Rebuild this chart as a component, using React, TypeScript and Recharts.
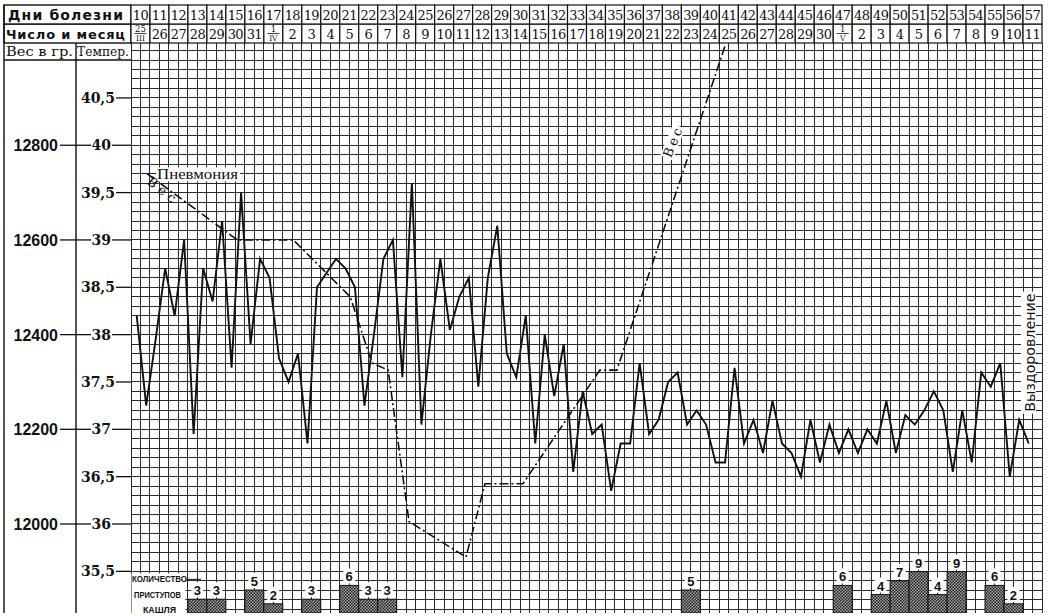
import React from "react";
import {
  Bar,
  CartesianGrid,
  ComposedChart,
  LabelList,
  Line,
  ReferenceDot,
  XAxis,
  YAxis,
} from "recharts";

// Дни болезни и даты
const days = [
  10, 11, 12, 13, 14, 15, 16, 17, 18, 19, 20, 21, 22, 23, 24, 25, 26, 27, 28,
  29, 30, 31, 32, 33, 34, 35, 36, 37, 38, 39, 40, 41, 42, 43, 44, 45, 46, 47,
  48, 49, 50, 51, 52, 53, 54, 55, 56, 57,
];
const dates = [
  "25/III", "26", "27", "28", "29", "30", "31", "1/IV", "2", "3", "4", "5",
  "6", "7", "8", "9", "10", "11", "12", "13", "14", "15", "16", "17", "18",
  "19", "20", "21", "22", "23", "24", "25", "26", "27", "28", "29", "30",
  "1/V", "2", "3", "4", "5", "6", "7", "8", "9", "10", "11",
];

// температура, утро / вечер
const temperature = [
  38.2, 37.25, 37.95, 38.7, 38.2, 39.0, 36.95, 38.7, 38.35, 39.2,
  37.65, 39.5, 37.9, 38.8, 38.6, 37.75, 37.5, 37.8, 36.85, 38.5,
  38.65, 38.8, 38.7, 38.5, 37.25, 38.0, 38.8, 39.0, 37.55, 39.6,
  37.05, 38.0, 38.8, 38.05, 38.4, 38.6, 37.45, 38.6, 39.15, 37.8,
  37.55, 38.2, 36.85, 38.0, 37.35, 37.9, 36.55, 37.4, 36.95, 37.05,
  36.35, 36.85, 36.85, 37.7, 36.95, 37.1, 37.5, 37.6, 37.05, 37.2,
  37.05, 36.65, 36.65, 37.65, 36.85, 37.1, 36.75, 37.3, 36.85, 36.75,
  36.5, 37.1, 36.65, 37.05, 36.75, 37.0, 36.75, 37.0, 36.85, 37.3,
  36.75, 37.15, 37.05, 37.2, 37.4, 37.2, 36.55, 37.2, 36.65, 37.6,
  37.45, 37.7, 36.5, 37.1, 36.85,
];

// вес: положение в полусутках от начала 10-го дня, граммы
const weightPos = [1.7, 11.2, 17.1, 23.1, 25.4, 27.1, 29.3, 35.3, 37.3, 41.3, 49.4, 51.2, 62.6];
const weightGrams = [12740, 12600, 12600, 12480, 12340, 12325, 12005, 11930, 12085, 12085, 12325, 12325, 13010];

// количество приступов кашля
const coughDays = [13, 14, 16, 17, 19, 21, 22, 23, 39, 47, 49, 50, 51, 52, 53, 55, 56];
const coughCounts = [3, 3, 5, 2, 3, 6, 3, 3, 5, 6, 4, 7, 9, 4, 9, 6, 2];

const tempTicks = [35.5, 36, 36.5, 37, 37.5, 38, 38.5, 39, 39.5, 40, 40.5];
const weightTicks = [12000, 12200, 12400, 12600, 12800];

const INK = "#111";
const GRID = "#2a2a2a";
const SERIF = '"DejaVu Serif", serif';
const SANS = '"DejaVu Sans", sans-serif';
const BOLD_SANS = '"Liberation Sans", Arial, sans-serif';
const ROW_H = 19;
const HALF = 96;
const CELL_W = 911 / 48;

const tempDomain = [35.06, 41.08];
const weightDomain = [11812, 13016];

const tempData = temperature.map((t, i) => ({ u: i + 0.6, t }));
const weightData = weightPos.map((u, i) => ({ u, w: weightGrams[i] }));
const coughData = coughDays.map((d, i) => ({ u: 2 * (d - 10) + 1, n: coughCounts[i] }));
const dayTicks = days.map((_, i) => 2 * i + 1);

const gridX = Array.from({ length: HALF + 1 }, (_, i) => i);
const gridY = Array.from({ length: 60 }, (_, i) => Math.round((35.1 + i * 0.1) * 10) / 10);

function DayTick({ x, y, index }: any) {
  return (
    <g>
      <rect x={x - CELL_W / 2} y={y - ROW_H} width={CELL_W} height={ROW_H} fill="#fff" stroke={INK} strokeWidth={1.2} />
      <text x={x} y={y - 4} textAnchor="middle" fontFamily={SERIF} fontSize={13} letterSpacing={-0.6} fill={INK}>
        {days[index]}
      </text>
    </g>
  );
}

function DateTick({ x, y, index }: any) {
  const s = dates[index] ?? "";
  const frac = s.includes("/");
  const [num, den] = s.split("/");
  return (
    <g>
      <rect x={x - CELL_W / 2} y={y - ROW_H} width={CELL_W} height={ROW_H} fill="#fff" stroke={INK} strokeWidth={1.2} />
      {frac ? (
        <g fill={INK} fontFamily={SERIF} textAnchor="middle">
          <text x={x} y={y - 11} fontSize={8.5}>{num}</text>
          <line x1={x - 6} x2={x + 6} y1={y - 9.5} y2={y - 9.5} stroke={INK} strokeWidth={0.8} />
          <text x={x} y={y - 2} fontSize={7.5}>{den}</text>
        </g>
      ) : (
        <text x={x} y={y - 4} textAnchor="middle" fontFamily={SERIF} fontSize={13} letterSpacing={-0.6} fill={INK}>
          {s}
        </text>
      )}
    </g>
  );
}

function TempTick({ x, y, payload }: any) {
  const v = payload.value as number;
  const whole = Number.isInteger(v);
  return (
    <g>
      <text x={x - (whole ? 20 : 16)} y={y + 5} textAnchor="end" fontFamily={SERIF} fontWeight="bold" fontSize={14} fill={INK}>
        {String(v).replace(".", ",")}
      </text>
      <line x1={x - (whole ? 19 : 15)} x2={x} y1={y} y2={y} stroke={INK} strokeWidth={1.3} />
    </g>
  );
}

// подпись веса слева от шкалы температуры
function WeightLabel({ cx, cy, grams }: any) {
  return (
    <g>
      <text x={cx - 73} y={cy + 6} textAnchor="end" fontFamily={BOLD_SANS} fontWeight="bold" fontSize={16} fill={INK}>
        {grams}
      </text>
      <line x1={cx - 71} x2={cx - 40} y1={cy} y2={cy} stroke={INK} strokeWidth={1.3} />
    </g>
  );
}

function DaysHeader({ viewBox }: any) {
  const { x, y, height } = viewBox;
  return (
    <g>
      <rect x={x - 127} y={y} width={127} height={height} fill="#fff" stroke={INK} strokeWidth={1.4} />
      <text x={x - 123} y={y + 15} fontFamily={SANS} fontWeight="bold" fontSize={14} textLength={115} lengthAdjust="spacing" fill={INK}>
        Дни болезни
      </text>
    </g>
  );
}

function DatesHeader({ viewBox }: any) {
  const { x, y, height } = viewBox;
  return (
    <g>
      <rect x={x - 127} y={y} width={127} height={height} fill="#fff" stroke={INK} strokeWidth={1.4} />
      <text x={x - 125} y={y + 15} fontFamily={SANS} fontWeight="bold" fontSize={13} textLength={119} lengthAdjust="spacing" fill={INK}>
        Число и месяц
      </text>
    </g>
  );
}

function LeftHeader({ viewBox }: any) {
  const { x, y, width, height } = viewBox;
  return (
    <g>
      <line x1={x} x2={x} y1={y - 2 * ROW_H} y2={y + height} stroke={INK} strokeWidth={1.4} />
      <line x1={x + 72} x2={x + 72} y1={y} y2={y + height} stroke={INK} strokeWidth={1.4} />
      <line x1={x} x2={x + width} y1={y + 17} y2={y + 17} stroke={INK} strokeWidth={1.4} />
      <text x={x + 2} y={y + 13} fontFamily={SERIF} fontSize={12.5} textLength={67} lengthAdjust="spacingAndGlyphs" fill={INK}>
        Вес в гр.
      </text>
      <text x={x + 73} y={y + 13} fontFamily={SERIF} fontSize={12.5} textLength={52} lengthAdjust="spacingAndGlyphs" fill={INK}>
        Темпер.
      </text>
    </g>
  );
}

// столбик на всю ширину суток
function CoughBar({ x, y, width, height }: any) {
  if (!height) return null;
  const cx = x + (width || 0) / 2;
  return (
    <g>
      <defs>
        <pattern id="hatch" width="3" height="3" patternUnits="userSpaceOnUse">
          <rect width="3" height="3" fill="#a8a8a8" />
          <rect width="1.5" height="1.5" fill="#1c1c1c" />
          <rect x="1.5" y="1.5" width="1.5" height="1.5" fill="#1c1c1c" />
        </pattern>
      </defs>
      <rect x={cx - CELL_W / 2} y={y} width={CELL_W} height={height} fill="url(#hatch)" stroke={INK} strokeWidth={1} />
    </g>
  );
}

function CoughLabel({ x, y, width, value }: any) {
  const cx = x + (width || 0) / 2;
  return (
    <g>
      <rect x={cx - 6} y={y - 17} width={12} height={15} fill="#fff" />
      <text x={cx} y={y - 4} textAnchor="middle" fontFamily={BOLD_SANS} fontWeight="bold" fontSize={13} fill={INK}>
        {value}
      </text>
    </g>
  );
}

function CoughCaption({ cx, cy }: any) {
  const f = { fontFamily: BOLD_SANS, fontWeight: "bold", fontSize: 8.5, fill: INK } as const;
  return (
    <g>
      <rect x={cx + 0.5} y={cy + 2} width={54} height={42} fill="#fff" />
      <text x={cx + 1} y={cy + 11} textLength={55} lengthAdjust="spacingAndGlyphs" {...f}>КОЛИЧЕСТВО</text>
      <line x1={cx + 56} x2={cx + 70} y1={cy + 8} y2={cy + 8} stroke={INK} strokeWidth={1} />
      <text x={cx + 3} y={cy + 27} textLength={47} lengthAdjust="spacingAndGlyphs" {...f}>ПРИСТУПОВ</text>
      <text x={cx + 12} y={cy + 42} textLength={33} lengthAdjust="spacingAndGlyphs" {...f}>КАШЛЯ</text>
    </g>
  );
}

function PneumoniaNote({ cx, cy }: any) {
  return (
    <g>
      <rect x={cx - 1} y={cy - 12} width={84} height={14} fill="#fff" />
      <text x={cx} y={cy} fontFamily='"Liberation Serif", serif' fontSize={15} textLength={81} lengthAdjust="spacingAndGlyphs" fill={INK}>
        Пневмония
      </text>
    </g>
  );
}

function WeightNoteLow({ cx, cy }: any) {
  return (
    <text x={cx} y={cy} transform={`rotate(38 ${cx} ${cy})`} fontFamily={SERIF} fontSize={13} letterSpacing={4} fill={INK}>
      Вес
    </text>
  );
}

function WeightNoteHigh({ cx, cy }: any) {
  return (
    <g transform={`rotate(-68 ${cx} ${cy})`}>
      <rect x={cx - 1} y={cy - 11} width={34} height={13} fill="#fff" />
      <text x={cx} y={cy} fontFamily={SERIF} fontSize={13} letterSpacing={3} fill={INK}>
        Вес
      </text>
    </g>
  );
}

function RecoveryNote({ cx, cy }: any) {
  return (
    <g transform={`rotate(-90 ${cx} ${cy})`}>
      <rect x={cx - 61} y={cy - 9} width={122} height={15} fill="#fff" />
      <text x={cx} y={cy + 5} textAnchor="middle" fontFamily={SANS} fontSize={14} textLength={118} lengthAdjust="spacingAndGlyphs" fill={INK}>
        Выздоровление
      </text>
    </g>
  );
}

export default function App() {
  return (
    <div style={{ position: "absolute", left: 0, top: 0, width: 1051, height: 616, background: "#fff" }}>
      <ComposedChart width={1051} height={616} data={coughData} margin={{ top: 5, right: 9, bottom: 3, left: 4 }}>
        <XAxis
          xAxisId="dates"
          orientation="top"
          type="number"
          dataKey="u"
          domain={[0, HALF]}
          allowDataOverflow
          ticks={dayTicks}
          interval={0}
          height={ROW_H}
          tick={<DateTick />}
          tickSize={0}
          tickMargin={0}
          tickLine={false}
          axisLine={false}
          label={DatesHeader}
        />
        <XAxis
          xAxisId="days"
          orientation="top"
          type="number"
          dataKey="u"
          domain={[0, HALF]}
          allowDataOverflow
          ticks={dayTicks}
          interval={0}
          height={ROW_H}
          tick={<DayTick />}
          tickSize={0}
          tickMargin={0}
          tickLine={false}
          axisLine={false}
          label={DaysHeader}
        />
        <YAxis
          yAxisId="temp"
          type="number"
          domain={tempDomain}
          allowDataOverflow
          ticks={tempTicks}
          interval={0}
          width={127}
          tick={<TempTick />}
          tickSize={0}
          tickMargin={0}
          tickLine={false}
          axisLine={false}
          label={LeftHeader}
        />
        <YAxis yAxisId="weight" type="number" domain={weightDomain} allowDataOverflow hide width={0} />
        <YAxis yAxisId="cough" type="number" domain={[0, 124]} allowDataOverflow hide width={0} />
        <CartesianGrid
          xAxisId="days"
          yAxisId="temp"
          verticalValues={gridX}
          horizontalValues={gridY}
          stroke={GRID}
          strokeWidth={1}
          shapeRendering="crispEdges"
        />
        {weightTicks.map((w) => (
          <ReferenceDot key={w} xAxisId="days" yAxisId="weight" x={0} y={w} r={0} shape={<WeightLabel grams={w} />} />
        ))}
        <Bar
          xAxisId="days"
          yAxisId="cough"
          dataKey="n"
          barSize={18.9}
          shape={<CoughBar />}
          isAnimationActive={false}
        >
          <LabelList dataKey="n" content={<CoughLabel />} />
        </Bar>
        <ReferenceDot xAxisId="days" yAxisId="temp" x={0} y={35.5} r={0} shape={<CoughCaption />} />
        <ReferenceDot xAxisId="days" yAxisId="temp" x={2.74} y={39.64} r={0} shape={<PneumoniaNote />} />
        <ReferenceDot xAxisId="days" yAxisId="temp" x={1.58} y={39.6} r={0} shape={<WeightNoteLow />} />
        <ReferenceDot xAxisId="days" yAxisId="temp" x={56.9} y={39.86} r={0} shape={<WeightNoteHigh />} />
        <ReferenceDot xAxisId="days" yAxisId="temp" x={94.73} y={37.81} r={0} shape={<RecoveryNote />} />
        <Line
          data={weightData}
          xAxisId="days"
          yAxisId="weight"
          dataKey="w"
          type="linear"
          stroke={INK}
          strokeWidth={1.6}
          strokeDasharray="9 3 2 3"
          dot={false}
          activeDot={false}
          isAnimationActive={false}
        />
        <Line
          data={tempData}
          xAxisId="days"
          yAxisId="temp"
          dataKey="t"
          type="linear"
          stroke={INK}
          strokeWidth={1.9}
          strokeLinejoin="miter"
          dot={false}
          activeDot={false}
          isAnimationActive={false}
        />
      </ComposedChart>
    </div>
  );
}
